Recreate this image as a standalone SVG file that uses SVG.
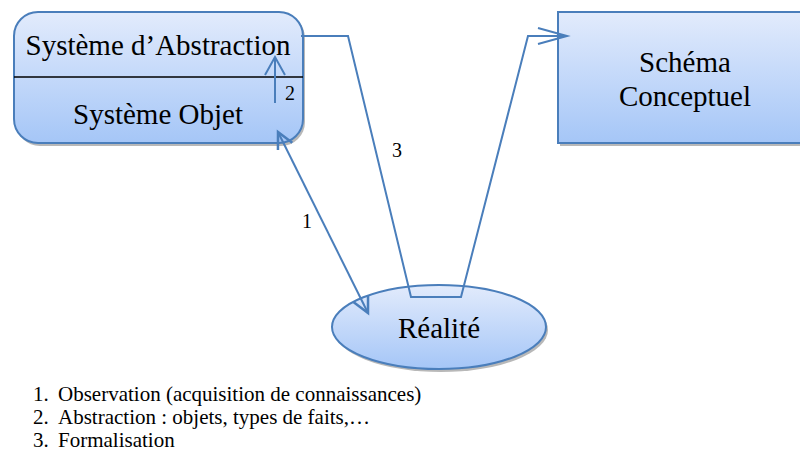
<svg xmlns="http://www.w3.org/2000/svg" width="800" height="455" viewBox="0 0 800 455">
<style>
.node{fill:url(#g);stroke:#4a7ebb;stroke-width:2}
.shadow{fill:#9a9a9a;opacity:0.7}
.con{fill:none;stroke:#4a7ebb;stroke-width:2}
.big{font-size:29px;text-anchor:middle}
</style>
<defs>
<linearGradient id="g" x1="0" y1="0" x2="0" y2="1">
<stop offset="0" stop-color="#e2ebfc"/>
<stop offset="1" stop-color="#a5c6f7"/>
</linearGradient>
<marker id="ah2" viewBox="0 0 20 20" refX="18" refY="10" markerWidth="20" markerHeight="20" markerUnits="userSpaceOnUse" orient="auto" overflow="visible">
<path d="M0,0 L18,10 L0,20" fill="none" stroke="#4a7ebb" stroke-width="2"/>
</marker>
<marker id="ah1" viewBox="0 0 16 16" refX="16" refY="8" markerWidth="16" markerHeight="16" markerUnits="userSpaceOnUse" orient="auto-start-reverse" overflow="visible">
<path d="M0,0 L16,8 L0,16" fill="none" stroke="#4a7ebb" stroke-width="2.5"/>
</marker>
<marker id="ah3" viewBox="0 0 30 16" refX="29" refY="8" markerWidth="30" markerHeight="16" markerUnits="userSpaceOnUse" orient="auto" overflow="visible">
<path d="M0,0 L29,8 L0,16" fill="none" stroke="#4a7ebb" stroke-width="2"/>
</marker>
</defs>
<g font-family="'Liberation Serif', 'Times New Roman', serif" fill="#000">
<g id="systeme">
<rect x="16" y="14" width="289" height="132" rx="24" class="shadow"/>
<rect x="14" y="12" width="289" height="131" rx="24" class="node"/>
<line x1="14" y1="77" x2="303" y2="77" stroke="#000" stroke-width="1.5"/>
<text x="158" y="55" class="big">Système d’Abstraction</text>
<text x="158" y="124" class="big">Système Objet</text>
</g>
<g id="schema">
<rect x="560" y="14" width="245" height="132" class="shadow"/>
<rect x="558" y="12" width="250" height="131" class="node"/>
<text x="685" y="72" class="big">Schéma</text>
<text x="685" y="106" class="big">Conceptuel</text>
</g>
<g id="realite">
<ellipse cx="441" cy="330" rx="107" ry="42" class="shadow"/>
<ellipse cx="439" cy="327" rx="107" ry="42" class="node"/>
<text x="439" y="338" class="big">Réalité</text>
</g>
<g id="connectors">
<line x1="275" y1="103" x2="275" y2="57" class="con" marker-end="url(#ah2)"/>
<line x1="278" y1="132" x2="368" y2="313" class="con" stroke-width="2.5" marker-start="url(#ah1)" marker-end="url(#ah1)"/>
<polyline points="301,36 348,36 411,297 461,297 528,36 567,36" class="con" marker-end="url(#ah3)"/>
<g font-size="20">
<text x="285" y="100">2</text>
<text x="302" y="228">1</text>
<text x="392" y="157">3</text>
</g>
</g>
<g id="legend" font-size="21">
<text x="33" y="401">1.</text><text x="58" y="401">Observation (acquisition de connaissances)</text>
<text x="33" y="424">2.</text><text x="58" y="424">Abstraction : objets, types de faits,…</text>
<text x="33" y="447">3.</text><text x="58" y="447">Formalisation</text>
</g>
</g>
</svg>
